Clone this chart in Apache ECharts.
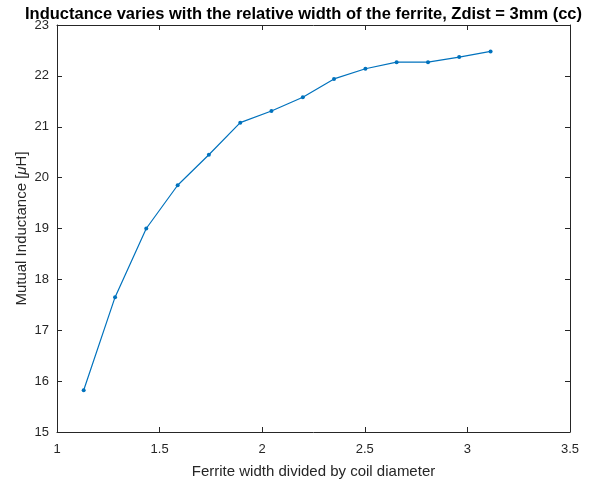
<!DOCTYPE html>
<html><head><meta charset="utf-8">
<script src="https://cdn.jsdelivr.net/npm/echarts@6/dist/echarts.min.js"></script>
<style>html,body{margin:0;padding:0;background:#fff}#c{width:607px;height:488px}</style>
</head><body><div id="c"></div>
<script>
const ratio = [1.130, 1.283, 1.435, 1.588, 1.740, 1.893, 2.045, 2.198, 2.350, 2.503, 2.655, 2.808, 2.960, 3.113];
const inductance = [15.82, 17.65, 19.00, 19.85, 20.45, 21.08, 21.31, 21.58, 21.94, 22.14, 22.27, 22.27, 22.37, 22.48];
const xTicks = [1, 1.5, 2, 2.5, 3, 3.5];
const yTicks = [15, 16, 17, 18, 19, 20, 21, 22, 23];
const titleText = 'Inductance varies with the relative width of the ferrite, Zdist = 3mm (cc)';
const xName = 'Ferrite width divided by coil diameter';

const axisCol = '#262626';
const font = 'Liberation Sans, Arial, Helvetica, sans-serif';
const chart = echarts.init(document.getElementById('c'), null, {renderer: 'canvas'});
const grid = {left: 57, right: 37, top: 25, bottom: 56};
const baseX = {
  type: 'value', min: xTicks[0], max: xTicks[xTicks.length - 1], interval: 0.5,
  axisLine: {show: true, lineStyle: {color: axisCol, width: 1}},
  axisTick: {show: true, inside: true, length: 5, lineStyle: {color: axisCol}},
  splitLine: {show: false}
};
const baseY = {
  type: 'value', min: yTicks[0], max: yTicks[yTicks.length - 1], interval: 1,
  axisLine: {show: true, lineStyle: {color: axisCol, width: 1}},
  axisTick: {show: true, inside: true, length: 5, lineStyle: {color: axisCol}},
  splitLine: {show: false}
};
chart.setOption({
  animation: false,
  backgroundColor: '#fff',
  title: {
    text: titleText, left: 'center', top: 1,
    textStyle: {fontFamily: font, fontSize: 16.5, fontWeight: 'bold', color: '#000'}
  },
  grid: grid,
  xAxis: [
    Object.assign({}, baseX, {
      position: 'bottom',
      name: xName, nameLocation: 'middle', nameGap: 32, nameMoveOverlap: false,
      nameTextStyle: {fontFamily: font, fontSize: 15, color: axisCol},
      axisLabel: {fontFamily: font, fontSize: 13, color: axisCol, margin: 11,
        formatter: v => String(v)}
    }),
    Object.assign({}, baseX, {position: 'top', axisLabel: {show: false}})
  ],
  yAxis: [
    Object.assign({}, baseY, {
      position: 'left',
      name: '{n|Mutual Inductance [}{m|μ}{n|H]}', nameLocation: 'middle', nameGap: 28, nameRotate: 90,
      nameMoveOverlap: false,
      nameTextStyle: {fontFamily: font, fontSize: 15, color: axisCol,
        rich: {n: {fontFamily: font, fontSize: 15, color: axisCol},
               m: {fontFamily: font, fontSize: 15, color: axisCol, fontStyle: 'italic'}}},
      axisLabel: {fontFamily: font, fontSize: 13, color: axisCol, margin: 8}
    }),
    Object.assign({}, baseY, {position: 'right', axisLabel: {show: false}})
  ],
  series: [{
    type: 'line',
    data: ratio.map((x, i) => [x, inductance[i]]),
    xAxisIndex: 0, yAxisIndex: 0,
    symbol: 'circle', symbolSize: 4, showSymbol: true,
    lineStyle: {color: '#0072BD', width: 1.2},
    itemStyle: {color: '#0072BD'}
  }]
});
</script></body></html>
